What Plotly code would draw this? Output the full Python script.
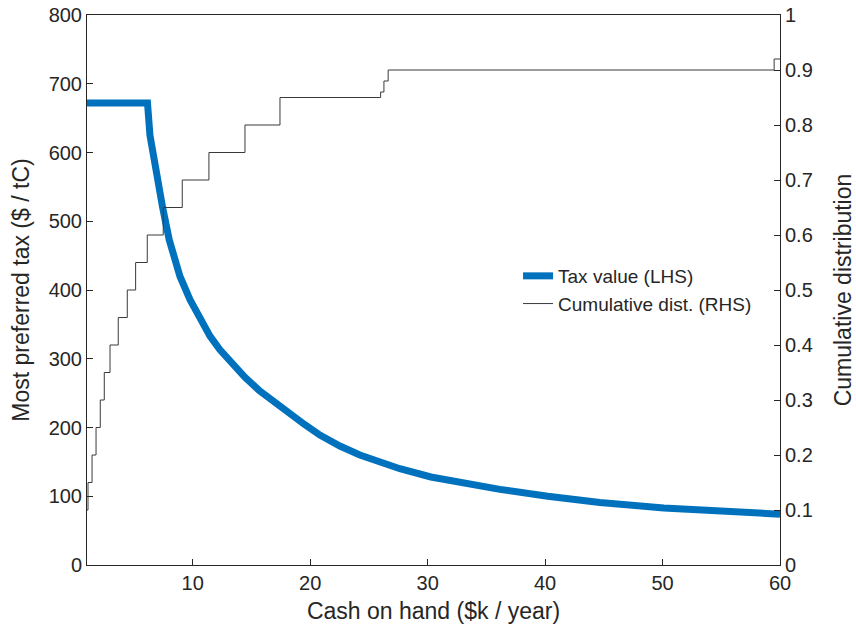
import plotly.graph_objects as go

# Tax value (LHS)
tax_x = [1.0, 6.15, 6.36, 6.62, 6.87, 7.21, 7.44, 8.0, 8.49, 8.91, 9.77, 10.62,
         11.47, 12.32, 13.17, 14.45, 15.72, 17.0, 18.28, 19.55, 20.83, 22.53,
         24.23, 25.94, 27.64, 30.28, 33.6, 36.15, 40.23, 44.66, 50.1, 54.87, 60.0]
tax_y = [672, 672, 625, 596, 570, 538, 520, 473, 443, 420, 386, 358,
         333, 313, 296, 273, 253, 236, 220, 204, 189, 173,
         160, 149, 140, 128, 117, 110, 100, 91, 83, 79, 74]

# Cumulative distribution (RHS), step positions and levels
cdf_x = [1.0, 1.085, 1.43, 1.77, 2.13, 2.47, 2.96, 3.66, 4.43, 5.14, 6.13,
         7.49, 9.11, 11.38, 14.45, 17.43, 26.0, 26.28, 26.64, 59.5, 60.0]
cdf_y = [0.10, 0.15, 0.20, 0.25, 0.30, 0.35, 0.40, 0.45, 0.50, 0.55, 0.60,
         0.65, 0.70, 0.75, 0.80, 0.85, 0.86, 0.88, 0.90, 0.92, 0.92]

x_ticks = [10, 20, 30, 40, 50, 60]
left_ticks = list(range(0, 801, 100))
right_ticks = [i / 10 for i in range(11)]
right_labels = ["0"] + [f"{v:.1f}" for v in right_ticks[1:-1]] + ["1"]

FONT = "Liberation Sans, Arial, sans-serif"
AX = "#262626"

fig = go.Figure()
fig.add_trace(go.Scatter(x=tax_x, y=tax_y, mode="lines", name="Tax value (LHS)",
                         line=dict(color="#0072BD", width=7), yaxis="y"))
fig.add_trace(go.Scatter(x=cdf_x, y=cdf_y, mode="lines", name="Cumulative dist. (RHS)",
                         line=dict(color="#3a3a3a", width=1, shape="hv"), yaxis="y2"))

fig.update_layout(
    width=856, height=635,
    margin=dict(l=87, r=76, t=15, b=70),
    paper_bgcolor="white", plot_bgcolor="white",
    font=dict(family=FONT, color=AX, size=20),
    xaxis=dict(range=[1, 60], tickvals=x_ticks, ticks="inside", ticklen=6,
               tickcolor=AX, showline=True, linecolor=AX, linewidth=1, mirror=True,
               showgrid=False, zeroline=False, automargin=False,
               title=dict(text="Cash on hand ($k / year)", font=dict(size=23), standoff=9),
               tickfont=dict(size=20)),
    yaxis=dict(range=[0, 800], tickvals=left_ticks, ticks="inside", ticklen=6,
               tickcolor=AX, showline=True, linecolor=AX, linewidth=1,
               showgrid=False, zeroline=False, automargin=False,
               title=dict(text="Most preferred tax ($ / tC)", font=dict(size=23), standoff=12),
               tickfont=dict(size=20)),
    yaxis2=dict(range=[0, 1], tickvals=right_ticks, ticktext=right_labels,
                overlaying="y", side="right", ticks="inside", ticklen=6,
                tickcolor=AX, showline=True, linecolor=AX, linewidth=1,
                showgrid=False, zeroline=False, automargin=False,
                title=dict(text="Cumulative distribution", font=dict(size=23), standoff=23),
                tickfont=dict(size=20)),
    legend=dict(x=0.622, y=0.56, xanchor="left", yanchor="top",
                bgcolor="rgba(255,255,255,0)", font=dict(size=19),
                tracegroupgap=0),
    showlegend=True,
)

fig.write_html("out.html")
